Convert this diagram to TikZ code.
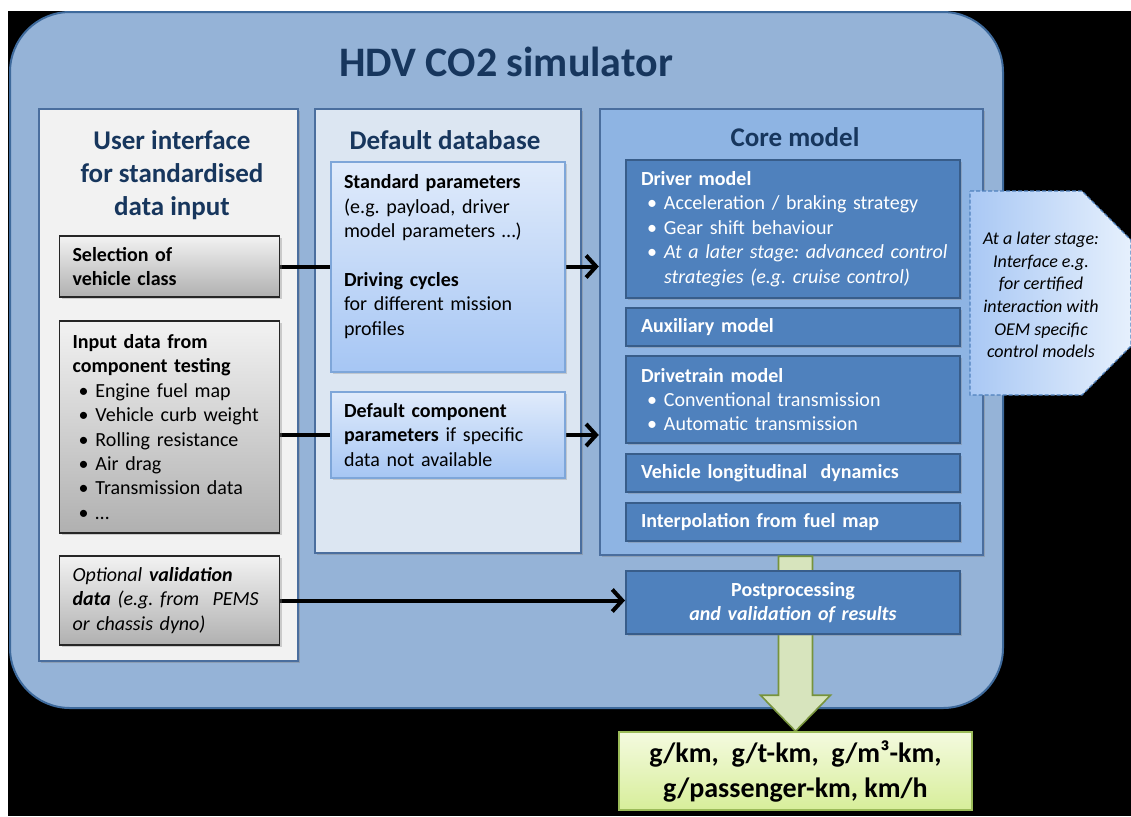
\documentclass[tikz,border=0pt]{standalone}
\usepackage{fontspec}
\setmainfont{Carlito}
\usepackage{tikz}
\usetikzlibrary{arrows.meta,calc,shadows}
\frenchspacing

\definecolor{navy}{HTML}{17365D}
\definecolor{outerfill}{HTML}{95B3D7}
\definecolor{outerline}{HTML}{3E6A9C}
\definecolor{uifill}{HTML}{F2F2F2}
\definecolor{dbfill}{HTML}{DCE6F2}
\definecolor{corefill}{HTML}{8EB4E3}
\definecolor{panelline}{HTML}{4A6E9E}
\definecolor{modfill}{HTML}{4F81BD}
\definecolor{modline}{HTML}{385D8A}
\definecolor{greytop}{HTML}{F2F2F2}
\definecolor{greybot}{HTML}{B0B0B0}
\definecolor{dbtop}{HTML}{E0EBFB}
\definecolor{dbbot}{HTML}{A6C6F4}
\definecolor{dbline}{HTML}{7EA6D9}
\definecolor{arrowgreen}{HTML}{D7E4BD}
\definecolor{arrowgreenline}{HTML}{77933C}
\definecolor{outtop}{HTML}{F4FADF}
\definecolor{outbot}{HTML}{D7EE9A}
\definecolor{outborder}{HTML}{9BBB59}
\definecolor{noteleft}{HTML}{A9C8F4}
\definecolor{noteright}{HTML}{E6F0FD}

\pgfdeclarelayer{background}
\pgfdeclarelayer{connect}
\pgfsetlayers{background,connect,main}

\newcommand{\bodyfont}{\fontsize{10}{12.2}\selectfont}
\newcommand{\itembul}{\hspace*{3pt}\makebox[8.5pt][l]{\textbullet}}

\tikzset{
   outerbox/.style={draw=outerline, line width=1pt, fill=outerfill, rounded corners=30pt},
   panel/.style={draw=panelline, line width=1.2pt,
                 drop shadow={opacity=0.4, shadow xshift=1.2pt, shadow yshift=-1.2pt}},
   paneltitle/.style={text=navy, font=\fontsize{13.5}{16.5}\selectfont\bfseries, align=center},
   greybox/.style={draw=black!85, line width=0.8pt, top color=greytop, bottom color=greybot,
                   align=left, font=\bodyfont, inner xsep=6.5pt, inner ysep=2pt,
                   minimum width=110pt, text width=97pt,
                   drop shadow={opacity=0.35, shadow xshift=1pt, shadow yshift=-1pt}},
   dbbox/.style={draw=dbline, line width=0.8pt, top color=dbtop, bottom color=dbbot,
                 align=left, font=\bodyfont, inner xsep=6.5pt, inner ysep=2pt,
                 minimum width=117pt, text width=104pt,
                 drop shadow={opacity=0.3, shadow xshift=1pt, shadow yshift=-1pt}},
   modbox/.style={draw=modline, line width=1pt, fill=modfill, text=white,
                  align=left, font=\bodyfont, inner xsep=7.5pt, inner ysep=2pt,
                  minimum width=167pt, text width=152pt,
                  drop shadow={opacity=0.35, shadow xshift=1pt, shadow yshift=-1pt}},
   resultbox/.style={draw=outborder, line width=0.8pt, top color=outtop, bottom color=outbot,
                     font=\fontsize{14}{17.5}\selectfont\bfseries, align=center},
   notebox/.style={draw=modfill, dash pattern=on 2pt off 1pt, line width=0.6pt,
                   left color=noteleft, right color=noteright},
   notetext/.style={font=\fontsize{9}{11.3}\selectfont\itshape, align=center},
   greenarrow/.style={draw=arrowgreenline, line width=0.8pt, fill=arrowgreen}
}
\tikzstyle{arrow} = [line width=2pt, -{Straight Barb[length=5pt,width=11pt]}]

\begin{document}
\begin{tikzpicture}[x=0.5pt,y=-0.5pt]
\useasboundingbox (0,0) rectangle (1131,816);

\begin{pgfonlayer}{background}
% BACKDROP
\fill[white] (0,0) rectangle (1131,816);
\fill[black] (8,11) rectangle (1131,816);

% SIMULATOR FRAME
\node[outerbox, minimum width=496.5pt, minimum height=348pt] (sim) at (506.5,360) {};

% THREE PANELS
\node[panel, fill=uifill, minimum width=129.5pt, minimum height=276pt] (ui) at (168.5,385) {};
\node[panel, fill=dbfill, minimum width=133pt, minimum height=222pt] (db) at (448,331) {};
\node[panel, fill=corefill, minimum width=191.5pt, minimum height=223pt] (core) at (791.5,332) {};
\end{pgfonlayer}

% TITLES
\node[text=navy, font=\fontsize{21}{25}\selectfont\bfseries] (title) at (506,62) {HDV CO2 simulator};
\node[paneltitle] (uititle) at (172,175) {User interface\\for standardised\\data input};
\node[paneltitle] (dbtitle) at (445,140) {Default database};
\node[paneltitle] (coretitle) at (795,137) {Core model};

% USER INTERFACE
\node[greybox, minimum height=30.5pt] (sel) at (169.5,266.5) {\textbf{Selection of}\\\textbf{vehicle class}};
\node[greybox, minimum height=106pt] (input) at (169.5,427) {\textbf{Input data from}\\\textbf{component testing}\\
	\itembul Engine fuel map\\\itembul Vehicle curb weight\\\itembul Rolling resistance\\
	\itembul Air drag\\\itembul Transmission data\\\itembul\ldots};
\node[greybox, minimum height=44.5pt] (valid) at (169.5,600.5) {\textit{Optional} \textbf{\textit{validation}}\\
	\textbf{\textit{data}} \textit{(e.g. from~ PEMS}\\\textit{or chassis dyno)}};

% DEFAULT DATABASE
\node[dbbox, minimum height=105pt] (std) at (448,267) {\textbf{Standard parameters}\\(e.g. payload, driver\\model parameters …)\\[12.2pt]
	\textbf{Driving cycles}\\for different mission\\profiles\\ \mbox{}};
\node[dbbox, minimum height=43pt] (dflt) at (448,435) {\textbf{Default component}\\\textbf{parameters} if specific\\data not available};

% CORE MODEL
\node[modbox, minimum height=69pt] (driver) at (793,229) {\textbf{Driver model}\\
	\itembul Acceleration / braking strategy\\\itembul Gear shift behaviour\\
	\itembul\mbox{\textit{At a later stage: advanced control}}\\\hspace*{11.5pt}\textit{strategies (e.g. cruise control)}};
\node[modbox, minimum height=19pt] (aux) at (793,327) {\textbf{Auxiliary model}};
\node[modbox, minimum height=43.5pt] (drive) at (793,399.5) {\textbf{Drivetrain model}\\
	\itembul Conventional transmission\\\itembul Automatic transmission};
\node[modbox, minimum height=19pt] (dyn) at (793,473) {\textbf{Vehicle longitudinal~ dynamics}};
\node[modbox, minimum height=19pt] (interp) at (793,522) {\textbf{Interpolation from fuel map}};

% POSTPROCESSING
\node[modbox, align=center, minimum height=31.5pt] (post) at (793,602.5) {\textbf{Postprocessing}\\\textbf{\textit{and validation of results}}};

% RESULTS
\node[resultbox, minimum width=176.5pt, minimum height=39pt] (out) at (795.5,771) {g/km,~ g/t-km,~ g/m³-km,\\g/passenger-km, km/h};

% LATER INTERFACE
\draw[notebox] (970,191) -- (1082,191) -- (1131,240) -- (1131,346) -- (1082,395) -- (970,395) -- cycle;
\node[notetext] (note) at (1041,295) {At a later stage:\\Interface e.g.\\for certified\\interaction with\\OEM specific\\control models};

% CONNECTORS
\begin{pgfonlayer}{connect}
\draw[arrow] (sel.east) -- (sel.east -| core.west);
\draw[arrow] (input.east |- dflt.east) -- (dflt.east -| core.west);
\draw[arrow] (valid.east) -- (valid.east -| post.west);

\coordinate (gtop) at (out.north |- core.south);
\draw[greenarrow] ($(gtop)+(-17,0)$) -- ($(gtop)+(17,0)$) -- ($(out.north)+(17,-36)$)
	-- ($(out.north)+(35,-36)$) -- (out.north) -- ($(out.north)+(-35,-36)$)
	-- ($(out.north)+(-17,-36)$) -- cycle;
\end{pgfonlayer}
\end{tikzpicture}
\end{document}
